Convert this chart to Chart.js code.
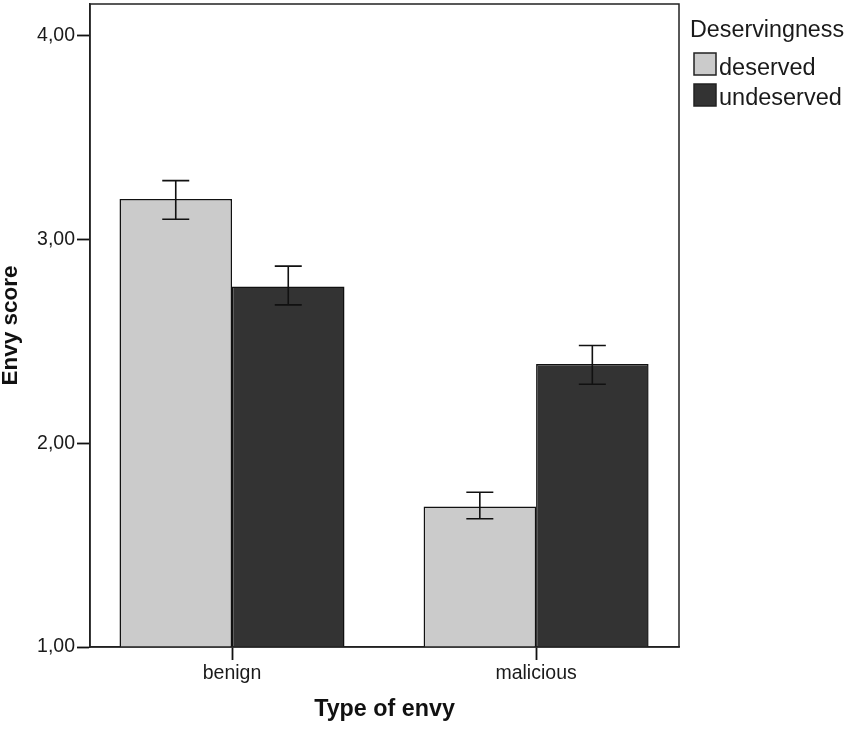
<!DOCTYPE html>
<html>
<head>
<meta charset="utf-8">
<script src="https://cdn.jsdelivr.net/npm/chart.js@4/dist/chart.umd.min.js"></script>
<style>
  html, body { margin: 0; padding: 0; background: #ffffff; }
  #wrap { width: 850px; height: 729px; }
</style>
</head>
<body>
<div id="wrap"><canvas id="c" width="850" height="729"></canvas></div>
<script>
// ---- data ----
const categories = ['benign', 'malicious'];
const seriesNames = ['deserved', 'undeserved'];
const deservedMean = [3.20, 1.69];
const deservedLow = [3.10, 1.63];
const deservedHigh = [3.29, 1.76];
const undeservedMean = [2.77, 2.39];
const undeservedLow = [2.68, 2.29];
const undeservedHigh = [2.87, 2.48];
const yTicks = [1, 2, 3, 4];
const legendTitle = 'Deservingness';
const xTitle = 'Type of envy';
const yTitle = 'Envy score';

const FONT = '"Liberation Sans", Arial, Helvetica, sans-serif';
const colors = ['#cbcbcb', '#333333'];

function toPoints(arr) { return arr.map((v, i) => ({ x: i, y: v })); }

const errData = [
  { low: deservedLow, high: deservedHigh },
  { low: undeservedLow, high: undeservedHigh }
];

const frameAndErrors = {
  id: 'frameAndErrors',
  afterDatasetsDraw(chart) {
    const ctx = chart.ctx;
    const y = chart.scales.y;
    ctx.save();
    ctx.strokeStyle = '#111111';
    ctx.lineWidth = 1.6;
    chart.data.datasets.forEach((ds, di) => {
      const meta = chart.getDatasetMeta(di);
      meta.data.forEach((bar, i) => {
        const x = bar.x;
        const yl = y.getPixelForValue(errData[di].low[i]);
        const yh = y.getPixelForValue(errData[di].high[i]);
        const hw = 13.5;
        ctx.beginPath();
        ctx.moveTo(x, yl); ctx.lineTo(x, yh);
        ctx.moveTo(x - hw, yl); ctx.lineTo(x + hw, yl);
        ctx.moveTo(x - hw, yh); ctx.lineTo(x + hw, yh);
        ctx.stroke();
      });
    });
    // frame
    const a = chart.chartArea;
    ctx.strokeStyle = '#222222';
    ctx.lineWidth = 1.5;
    ctx.strokeRect(a.left, a.top, a.right - a.left, a.bottom - a.top);
    ctx.restore();
  },
  afterDraw(chart) {
    const ctx = chart.ctx;
    ctx.save();
    ctx.fillStyle = '#1a1a1a';
    ctx.textAlign = 'left';
    ctx.textBaseline = 'alphabetic';
    ctx.font = '23.3px ' + FONT;
    ctx.fillText(legendTitle, 690, 37);
    const rows = [{ top: 53, base: 75 }, { top: 84, base: 105 }];
    chart.data.datasets.forEach((ds, di) => {
      const r = rows[di];
      ctx.fillStyle = ds.backgroundColor;
      ctx.fillRect(694, r.top, 22, 22);
      ctx.strokeStyle = '#222222';
      ctx.lineWidth = 1.5;
      ctx.strokeRect(694, r.top, 22, 22);
      ctx.fillStyle = '#1a1a1a';
      ctx.font = '23.5px ' + FONT;
      ctx.fillText(ds.label, 719, r.base);
    });
    ctx.restore();
  }
};

new Chart(document.getElementById('c'), {
  type: 'bar',
  data: {
    datasets: [
      { label: seriesNames[0], data: toPoints(deservedMean), backgroundColor: colors[0], borderColor: '#111111', borderWidth: 1.5, borderSkipped: false },
      { label: seriesNames[1], data: toPoints(undeservedMean), backgroundColor: colors[1], borderColor: '#111111', borderWidth: 1.5, borderSkipped: false }
    ]
  },
  options: {
    responsive: false,
    devicePixelRatio: 1,
    animation: false,
    categoryPercentage: 0.74,
    barPercentage: 1.0,
    layout: { padding: { top: 4, right: 171, left: 0, bottom: 0 } },
    plugins: { legend: { display: false }, tooltip: { enabled: false } },
    scales: {
      x: {
        type: 'linear',
        offset: false,
        min: -0.467,
        max: 1.470,
        afterBuildTicks(scale) { scale.ticks = categories.map((c, i) => ({ value: i })); },
        afterFit(scale) { scale.height = 82; scale.paddingLeft = 0; scale.paddingRight = 0; scale.paddingTop = 0; scale.paddingBottom = 0; },
        ticks: {
          autoSkip: false,
          maxRotation: 0,
          padding: 2,
          color: '#1a1a1a',
          font: { family: FONT, size: 19.5 },
          callback: (v) => categories[v] !== undefined ? categories[v] : ''
        },
        grid: { offset: false, drawOnChartArea: false, drawTicks: true, tickLength: 13, tickColor: '#111111', tickWidth: 1.8 },
        border: { display: true, color: '#222222', width: 1.5 },
        title: { display: true, text: xTitle, color: '#111111', font: { family: FONT, size: 23.3, weight: 'bold' }, padding: { top: 0, bottom: 5 } }
      },
      y: {
        type: 'linear',
        min: 1,
        max: 4.157,
        afterBuildTicks(scale) { scale.ticks = yTicks.map(v => ({ value: v })); },
        afterFit(scale) { scale.width = 90; scale.paddingLeft = 0; scale.paddingRight = 0; scale.paddingTop = 0; scale.paddingBottom = 0; },
        ticks: {
          padding: 2,
          color: '#1a1a1a',
          font: { family: FONT, size: 19.5 },
          callback: (v) => v.toFixed(2).replace('.', ',')
        },
        grid: { drawOnChartArea: false, drawTicks: true, tickLength: 13, tickColor: '#111111', tickWidth: 1.8 },
        border: { display: true, color: '#222222', width: 1.5 },
        title: { display: true, text: yTitle, color: '#111111', font: { family: FONT, size: 22.5, weight: 'bold', lineHeight: 1.0 }, padding: { top: 0, bottom: 0 } }
      }
    }
  },
  plugins: [frameAndErrors]
});
</script>
</body>
</html>
